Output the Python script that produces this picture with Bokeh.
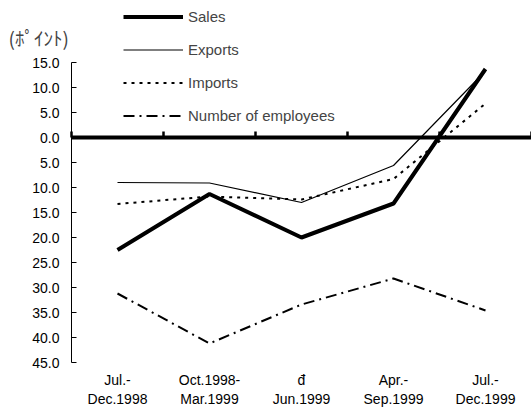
from bokeh.plotting import figure
from bokeh.models import Range1d, FixedTicker, CustomJSTickFormatter, Legend, LegendItem, Label, LinearAxis
from bokeh.embed import file_html
from bokeh.resources import INLINE

categories = ["Jul.-\nDec.1998", "Oct.1998-\nMar.1999", "đ\nJun.1999", "Apr.-\nSep.1999", "Jul.-\nDec.1999"]
sales = [-22.5, -11.3, -20.0, -13.2, 13.7]
exports = [-9.0, -9.1, -13.0, -5.6, 13.3]
imports = [-13.3, -11.8, -12.4, -8.3, 6.8]
employees = [-31.2, -41.2, -33.4, -28.2, -34.6]
y_ticks = [15, 10, 5, 0, -5, -10, -15, -20, -25, -30, -35, -40, -45]
unit_label = "(ﾎﾟｲﾝﾄ)"

xs = [i + 0.5 for i in range(len(categories))]
FONT = "Liberation Sans"

p = figure(width=531, height=414, output_backend="svg", toolbar_location=None,
           x_range=Range1d(-71 / 92, 460 / 92), y_range=Range1d(-47, 27.4),
           min_border_left=0, min_border_right=0, min_border_top=0, min_border_bottom=42)
p.outline_line_color = None
p.grid.visible = False
p.background_fill_color = "white"

# y axis drawn at x = 0 (category start)
yax = p.yaxis[0]
yax.fixed_location = 0
yax.bounds = (-45, 15)
yax.ticker = FixedTicker(ticks=y_ticks)
yax.formatter = CustomJSTickFormatter(code="return Math.abs(tick).toFixed(1);")
yax.minor_tick_line_color = None
yax.major_tick_in = 5
yax.major_tick_out = 0
yax.major_label_standoff = 12
yax.major_label_text_font = FONT
yax.major_label_text_font_size = "14px"
yax.major_label_text_color = "black"
yax.axis_line_color = "black"
yax.axis_line_width = 1

# category labels at the bottom
xax = p.xaxis[0]
xax.ticker = FixedTicker(ticks=xs)
xax.major_label_overrides = {x: c for x, c in zip(xs, categories)}
xax.axis_line_color = None
xax.major_tick_line_color = None
xax.minor_tick_line_color = None
xax.major_label_standoff = -7
xax.major_label_text_font = FONT
xax.major_label_text_font_size = "14px"
xax.major_label_text_color = "black"

# zero line axis with category boundary ticks
zax = LinearAxis(fixed_location=0, bounds=(0, len(categories)),
                 ticker=FixedTicker(ticks=list(range(len(categories) + 1))),
                 major_label_text_color=None, major_label_standoff=0,
                 axis_line_width=4, axis_line_color="black",
                 major_tick_in=6, major_tick_out=0, major_tick_line_width=2.5,
                 major_tick_line_color="black", minor_tick_line_color=None)
p.add_layout(zax, "below")

r_sales = p.line(xs, sales, line_color="black", line_width=4)
r_exp = p.line(xs, exports, line_color="black", line_width=1.2)
r_imp = p.line(xs, imports, line_color="black", line_width=2, line_dash="3 5")
r_emp = p.line(xs, employees, line_color="black", line_width=2, line_dash="11 5 2 5")

legend = Legend(items=[
    LegendItem(label="Sales", renderers=[r_sales]),
    LegendItem(label="Exports", renderers=[r_exp]),
    LegendItem(label="Imports", renderers=[r_imp]),
    LegendItem(label="Number of employees", renderers=[r_emp]),
], location=(123, 248), glyph_width=60, glyph_height=17, label_height=17, spacing=16,
    label_standoff=5, padding=0, margin=0, border_line_color=None, background_fill_alpha=0,
    label_text_font=FONT, label_text_font_size="15px")
p.add_layout(legend, "center")

p.add_layout(Label(x=-63 / 92, y=20.0, text=unit_label, text_font="Noto Sans CJK JP",
                   text_font_size="19px", text_baseline="middle", text_align="left"))

open("out.html", "w").write(file_html(p, INLINE))
